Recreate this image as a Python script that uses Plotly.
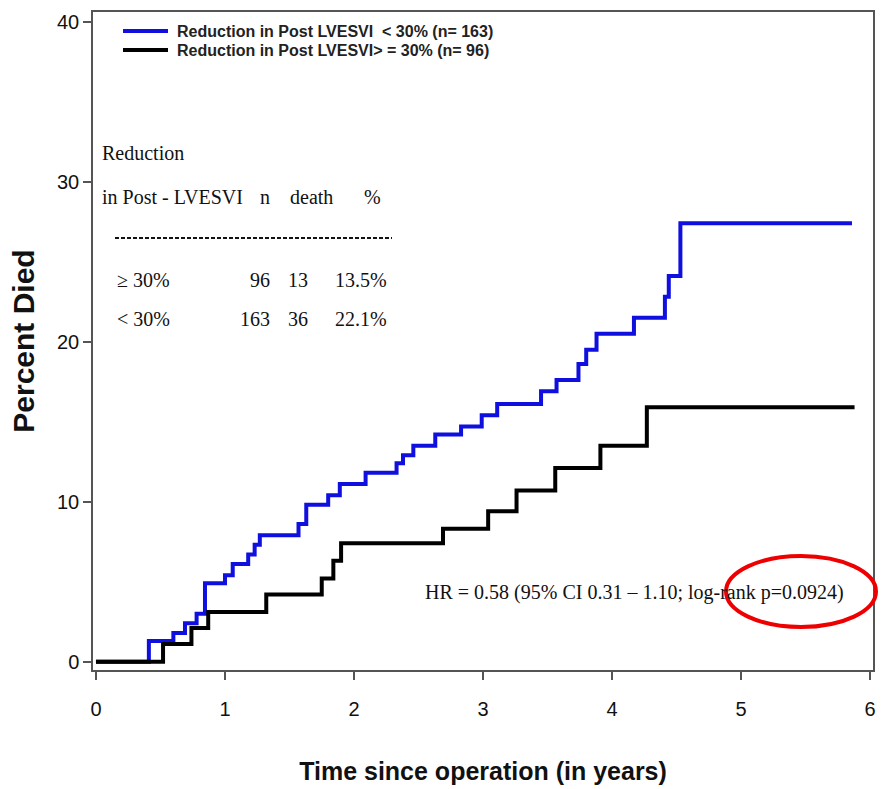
import plotly.graph_objects as go

# ---- data ----
blue_t = [0, 0.41, 0.60, 0.69, 0.78, 0.845, 1.00, 1.06, 1.18, 1.23, 1.27, 1.57, 1.63, 1.80, 1.89,
          2.09, 2.33, 2.38, 2.46, 2.63, 2.83, 2.99, 3.11, 3.45, 3.57, 3.74, 3.80, 3.88, 4.17,
          4.41, 4.44, 4.53, 5.86]
blue_v = [0, 1.3, 1.8, 2.4, 3.0, 4.9, 5.4, 6.1, 6.7, 7.3, 7.9, 8.6, 9.8, 10.4, 11.1,
          11.8, 12.4, 12.9, 13.5, 14.2, 14.7, 15.4, 16.1, 16.9, 17.6, 18.6, 19.5, 20.5, 21.5,
          22.8, 24.1, 27.4, 27.4]
black_t = [0, 0.52, 0.74, 0.87, 1.32, 1.75, 1.84, 1.90, 2.69, 3.04, 3.26, 3.56, 3.91, 4.27, 5.88]
black_v = [0, 1.1, 2.1, 3.1, 4.2, 5.2, 6.3, 7.4, 8.3, 9.4, 10.7, 12.1, 13.5, 15.9, 15.9]

series_names = ["Reduction in Post LVESVI\u00a0\u00a0< 30% (n= 163)",
                "Reduction in Post LVESVI> = 30% (n= 96)"]
series_colors = ["#0f0fe0", "#000000"]

x_ticks = [0, 1, 2, 3, 4, 5, 6]
y_ticks = [0, 10, 20, 30, 40]

table_header = ["in Post - LVESVI", "n", "death", "%"]
table_groups = ["\u2265 30%", "< 30%"]
table_n = ["96", "163"]
table_deaths = ["13", "36"]
table_pct = ["13.5%", "22.1%"]
hr_text = "HR = 0.58 (95% CI 0.31 \u2013 1.10; log-rank p=0.0924)"

# ---- figure ----
W, H = 884, 789
L, R, T, B = 93, 11, 12, 119
pw, ph = W - L - R, H - T - B

def px(x):
    return (x - L) / pw

def py(y):
    return (H - B - y) / ph

fig = go.Figure()
for t, v, name, col in [(blue_t, blue_v, series_names[0], series_colors[0]),
                        (black_t, black_v, series_names[1], series_colors[1])]:
    fig.add_trace(go.Scatter(x=t, y=v, mode="lines", line=dict(shape="hv", color=col, width=4),
                             name=name, showlegend=False))

serif = "Liberation Serif, Times New Roman, serif"
sans = "Liberation Sans, Arial, sans-serif"
ann = []
shapes = []

# manual legend
for i, (name, col) in enumerate(zip(series_names, series_colors)):
    yy = [31, 50][i]
    shapes.append(dict(type="line", xref="paper", yref="paper", x0=px(123), x1=px(168),
                       y0=py(yy), y1=py(yy), line=dict(color=col, width=4)))
    ann.append(dict(text=name, xref="paper", yref="paper", x=px(176), y=py(yy), xanchor="left",
                    yanchor="middle", showarrow=False, borderpad=0,
                    font=dict(family=sans, size=16, color="#222", weight="bold")))

# table
tfont = dict(family=serif, size=20, color="#111")
ann.append(dict(text="Reduction", xref="paper", yref="paper", x=px(100), y=py(153), xanchor="left",
                yanchor="middle", showarrow=False, font=tfont))
ann.append(dict(text=table_header[0], xref="paper", yref="paper", x=px(100), y=py(197), xanchor="left",
                yanchor="middle", showarrow=False, font=tfont))
for txt, cx in zip(table_header[1:], [265, 311, 372]):
    ann.append(dict(text=txt, xref="paper", yref="paper", x=px(cx), y=py(197), xanchor="center",
                    yanchor="middle", showarrow=False, font=tfont))
shapes.append(dict(type="line", xref="paper", yref="paper", x0=px(115), x1=px(392), y0=py(238), y1=py(238),
                   line=dict(color="#111", width=2, dash="4px,2px")))
for i in range(2):
    yy = [280, 319][i]
    ann.append(dict(text=table_groups[i], xref="paper", yref="paper", x=px(115), y=py(yy), xanchor="left",
                    yanchor="middle", showarrow=False, font=tfont))
    for txt, rx in zip([table_n[i], table_deaths[i], table_pct[i]], [272, 310, 389]):
        ann.append(dict(text=txt, xref="paper", yref="paper", x=px(rx), y=py(yy), xanchor="right",
                        yanchor="middle", showarrow=False, font=tfont))

ann.append(dict(text=hr_text, xref="paper", yref="paper", x=px(423), y=py(592), xanchor="left",
                yanchor="middle", showarrow=False, font=tfont))

shapes.append(dict(type="circle", xref="paper", yref="paper", x0=px(726), x1=px(876),
                   y0=py(627), y1=py(556), line=dict(color="#ee0000", width=4)))

axis_common = dict(showline=True, mirror=True, linecolor="#555", linewidth=1.5, ticks="outside",
                   ticklen=8, tickcolor="#555", tickwidth=1.5, showgrid=False, zeroline=False,
                   tickfont=dict(family=sans, size=20, color="#111"))

fig.update_layout(
    width=W, height=H, margin=dict(l=L, r=R, t=T, b=B, autoexpand=False),
    paper_bgcolor="white", plot_bgcolor="white",
    xaxis=dict(range=[-0.023, 6.023], tickvals=x_ticks, automargin=False, ticklabelstandoff=12,
               title=dict(text="Time since operation (in years)", standoff=44,
                          font=dict(family=sans, size=25, color="#111", weight="bold")),
               **axis_common),
    yaxis=dict(range=[-0.52, 40.6], tickvals=y_ticks, automargin=False,
               title=dict(text="Percent Died", standoff=14,
                          font=dict(family=sans, size=30, color="#111", weight="bold")),
               **axis_common),
    annotations=ann, shapes=shapes, showlegend=False,
)
fig.write_html("out.html", config={"displayModeBar": False},
               post_script="document.body.style.margin='0';")
